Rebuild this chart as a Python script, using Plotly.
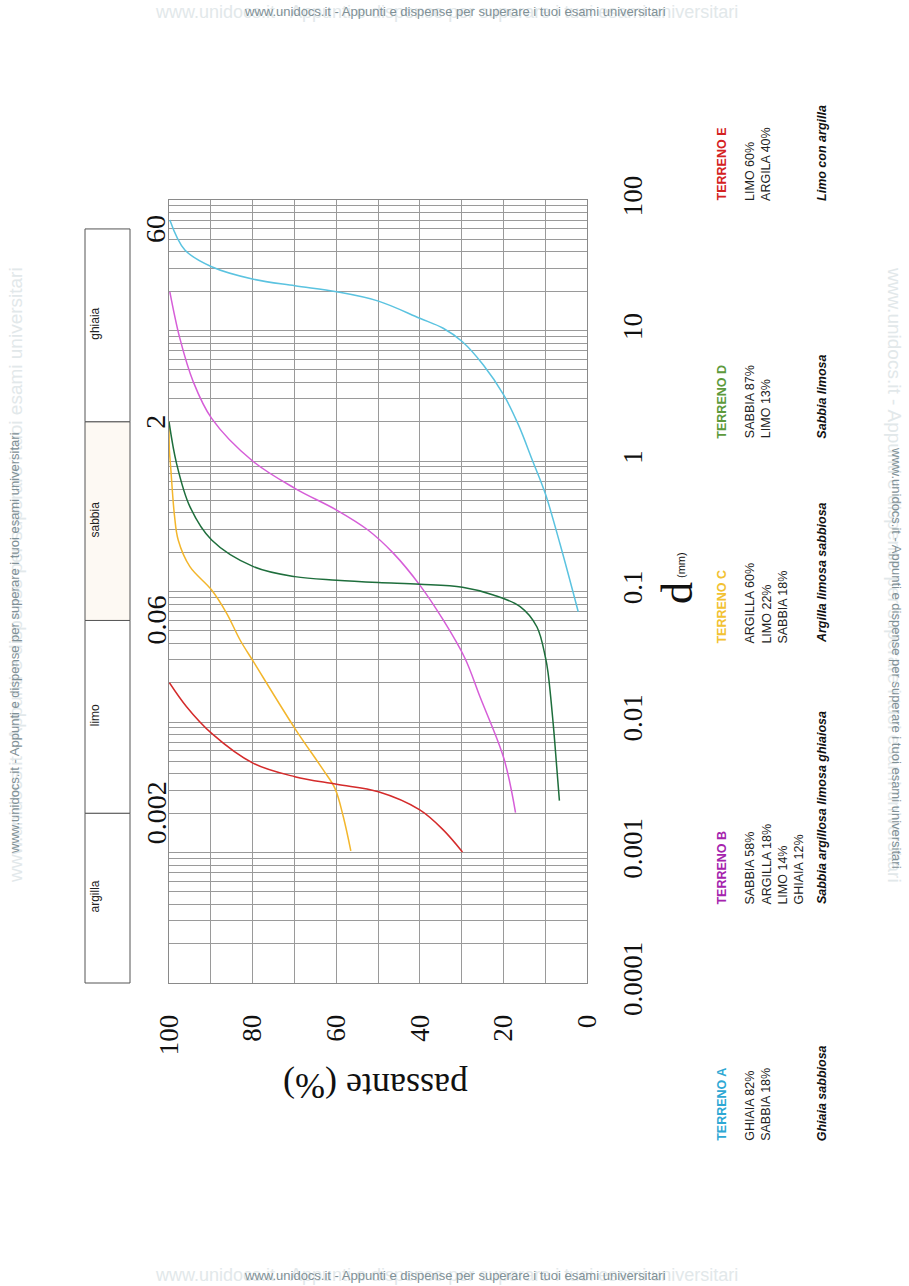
import math
import plotly.graph_objects as go

# ---------------- data ----------------
# grain size d (mm) and percent passing for each soil
A_d = [70.3, 41.4, 30.8, 24.7, 22.0, 19.8, 16.8, 12.4, 10.4, 8.2, 5.44, 3.2, 1.89, 1.0, 0.565, 0.234, 0.070]
A_p = [99.8, 96.2, 89.8, 79.8, 69.9, 59.9, 49.9, 40.0, 34.4, 29.8, 24.8, 19.9, 16.4, 13.0, 10.0, 6.5, 2.1]

B_d = [19.8, 8.7, 4.05, 2.12, 1.0, 0.618, 0.421, 0.296, 0.196, 0.112, 0.0605, 0.0308, 0.0156, 0.00527, 0.00202]
B_p = [99.8, 97.4, 94.2, 89.8, 80.0, 69.9, 59.9, 52.4, 46.3, 40.0, 34.4, 29.2, 25.6, 19.9, 17.1]

C_d = [2.0, 1.2, 0.9, 0.385, 0.248, 0.155, 0.1026, 0.068, 0.0425, 0.029, 0.00895, 0.00429, 0.0031, 0.00188, 0.00103]
C_p = [100.0, 99.9, 99.6, 98.7, 97.8, 95.0, 89.8, 86.2, 83.0, 79.8, 69.9, 63.1, 60.3, 58.3, 56.5]

D_d = [2.0, 0.96, 0.447, 0.248, 0.155, 0.130, 0.122, 0.117, 0.1135, 0.1076, 0.094, 0.0765, 0.0537, 0.0308, 0.0236, 0.0098, 0.00454, 0.0025]
D_p = [100.0, 98.2, 95.0, 89.8, 79.8, 69.9, 59.9, 49.9, 40.0, 29.8, 22.4, 16.0, 12.0, 9.9, 9.3, 8.1, 7.25, 6.6]

E_d = [0.020, 0.0131, 0.00818, 0.00482, 0.00381, 0.00333, 0.00292, 0.00212, 0.00149, 0.00101]
E_p = [99.9, 95.8, 89.8, 79.8, 69.9, 59.9, 49.9, 40.0, 34.4, 29.8]

SERIES_NAMES = ["TERRENO A", "TERRENO B", "TERRENO C", "TERRENO D", "TERRENO E"]
LINE_COLORS = ["#5bc3e0", "#d65ed8", "#f3b62c", "#1e6e3c", "#d42b2b"]
LABEL_COLORS = ["#2ea8d4", "#a523ad", "#f2c232", "#5d9a3c", "#d42222"]
COMPOSITIONS = [
    ["GHIAIA 82%", "SABBIA 18%"],
    ["SABBIA 58%", "ARGILLA 18%", "LIMO 14%", "GHIAIA 12%"],
    ["ARGILLA 60%", "LIMO 22%", "SABBIA 18%"],
    ["SABBIA 87%", "LIMO 13%"],
    ["LIMO 60%", "ARGILA 40%"],
]
DESCRIPTIONS = ["Ghiaia sabbiosa", "Sabbia argillosa limosa ghiaiosa",
                "Argilla limosa sabbiosa", "Sabbia limosa", "Limo con argilla"]
# where each soil's text block begins along the size axis (mm)
TEXT_START_D = [0.0000066, 0.00043, 0.043, 1.6, 100 * 1.06]

# axis ticks
PASS_TICKS = [0, 10, 20, 30, 40, 50, 60, 70, 80, 90, 100]
PASS_LABELS = ["0", "", "20", "", "40", "", "60", "", "80", "", "100"]
DECADES = [0.0001, 0.001, 0.01, 0.1, 1, 10, 100]
DECADE_LABELS = ["0.0001", "0.001", "0.01", "0.1", "1", "10", "100"]
MINOR_FACTORS = [2, 3, 4, 5, 6, 7, 8, 9]

# size classes
CLASS_LIMITS = [0.0001, 0.002, 0.06, 2, 60]
CLASS_LIMIT_LABELS = ["0.002", "0.06", "2", "60"]
CLASS_NAMES = ["argilla", "limo", "sabbia", "ghiaia"]

WATERMARK = "www.unidocs.it - Appunti e dispense per superare i tuoi esami universitari"

# ---------------- layout helpers ----------------
W, H = 909, 1286
L, R, T, B = 169, 322, 200, 303
PW, PH = W - L - R, H - T - B
LOG_MIN, LOG_MAX = -4, 2


def py_d(d):
    """paper y of a grain size (log axis)"""
    return (math.log10(d) - LOG_MIN) / (LOG_MAX - LOG_MIN)


def px(x):
    return (x - L) / PW


def pyp(y):
    return (H - B - y) / PH


fig = go.Figure()

series = [(A_d, A_p), (B_d, B_p), (C_d, C_p), (D_d, D_p), (E_d, E_p)]
for (dd, pp), name, col in zip(series, SERIES_NAMES, LINE_COLORS):
    fig.add_trace(go.Scatter(x=pp, y=dd, mode="lines", name=name,
                             line=dict(color=col, width=1.5, shape="spline", smoothing=1.0),
                             showlegend=False, hoverinfo="x+y+name"))

y_tickvals, y_ticktext = [], []
for dec, lab in zip(DECADES, DECADE_LABELS):
    y_tickvals.append(dec)
    y_ticktext.append(lab)
    if dec < DECADES[-1]:
        for f in MINOR_FACTORS:
            y_tickvals.append(dec * f)
            y_ticktext.append("")

serif = "Liberation Serif, Times New Roman, serif"
sans = "Liberation Sans, Arial, sans-serif"

fig.update_layout(
    width=W, height=H,
    margin=dict(l=L, r=R, t=T, b=B, pad=0),
    paper_bgcolor="white", plot_bgcolor="white",
    xaxis=dict(range=[100, 0], tickvals=PASS_TICKS, ticktext=PASS_LABELS,
               tickangle=-90, tickfont=dict(family=serif, size=27, color="#111"),
               showgrid=True, gridcolor="#9a9a9a", gridwidth=1,
               showline=True, linecolor="#8a8a8a", mirror=True, zeroline=False,
               ticks="", ticklabelstandoff=20),
    yaxis=dict(type="log", range=[LOG_MIN, LOG_MAX], side="right",
               tickvals=y_tickvals, ticktext=y_ticktext,
               tickangle=-90, tickfont=dict(family=serif, size=27, color="#111"),
               showgrid=True, gridcolor="#9a9a9a", gridwidth=1,
               showline=True, linecolor="#8a8a8a", mirror=True, zeroline=False,
               ticks="", ticklabelstandoff=22),
)

ann = []
shapes = []

# axis titles
ann.append(dict(text="passante (%)", x=px(376), y=pyp(1086), xref="paper", yref="paper",
                showarrow=False, textangle=180, font=dict(family=serif, size=36, color="#111"),
                xanchor="center", yanchor="middle"))
ann.append(dict(text="d", x=px(677), y=pyp(593), xref="paper", yref="paper",
                showarrow=False, textangle=-90, font=dict(family=serif, size=44, color="#111"),
                xanchor="center", yanchor="middle"))
ann.append(dict(text="(mm)", x=px(681), y=pyp(565), xref="paper", yref="paper",
                showarrow=False, textangle=-90, font=dict(family=sans, size=11, color="#111"),
                xanchor="center", yanchor="middle"))

# class limit labels
for v, lab in zip(CLASS_LIMITS[1:], CLASS_LIMIT_LABELS):
    ann.append(dict(text=lab, x=px(156), y=py_d(v), xref="paper", yref="paper",
                    showarrow=False, textangle=-90, font=dict(family=serif, size=28, color="#111"),
                    xanchor="center", yanchor="middle"))

# class boxes
bx0, bx1 = px(85), px(130)
for i, name in enumerate(CLASS_NAMES):
    y0, y1 = py_d(CLASS_LIMITS[i]), py_d(CLASS_LIMITS[i + 1])
    shapes.append(dict(type="rect", xref="paper", yref="paper", x0=bx0, x1=bx1, y0=y0, y1=y1,
                       line=dict(color="#555", width=1),
                       fillcolor="#fdf9f3" if name == "sabbia" else "white", layer="below"))
    ann.append(dict(text=name, x=px(95), y=(y0 + y1) / 2 + 0.002, xref="paper", yref="paper",
                    showarrow=False, textangle=-90, font=dict(family=sans, size=12, color="#222"),
                    xanchor="center", yanchor="middle"))

# soil texts
for i in range(5):
    ys = py_d(TEXT_START_D[i]) - 0.008
    ann.append(dict(text="<b>" + SERIES_NAMES[i] + "</b>", x=px(722), y=ys, xref="paper", yref="paper",
                    showarrow=False, textangle=-90, font=dict(family=sans, size=12.5, color=LABEL_COLORS[i]),
                    xanchor="center", yanchor="bottom"))
    ann.append(dict(text="<br>".join(COMPOSITIONS[i]), x=px(741), y=ys, xref="paper", yref="paper",
                    showarrow=False, textangle=-90, align="left",
                    font=dict(family=sans, size=12.5, color="#222"),
                    xanchor="left", yanchor="bottom"))
    ann.append(dict(text="<b><i>" + DESCRIPTIONS[i] + "</i></b>", x=px(822), y=ys, xref="paper", yref="paper",
                    showarrow=False, textangle=-90, font=dict(family=sans, size=12.5, color="#111"),
                    xanchor="center", yanchor="bottom"))

# watermarks
faint = "#e2e8ea"
mid = "#7f9096"
for yy in (12, 1275):
    ann.append(dict(text=WATERMARK, x=px(446), y=pyp(yy), xref="paper", yref="paper", showarrow=False,
                    font=dict(family=sans, size=18, color=faint), xanchor="center", yanchor="middle"))
    ann.append(dict(text=WATERMARK, x=px(455), y=pyp(yy), xref="paper", yref="paper", showarrow=False,
                    font=dict(family=sans, size=13, color=mid), xanchor="center", yanchor="middle"))
ann.append(dict(text=WATERMARK, x=px(15), y=pyp(575), xref="paper", yref="paper", showarrow=False,
                textangle=-90, font=dict(family=sans, size=19, color=faint), xanchor="center", yanchor="middle"))
ann.append(dict(text=WATERMARK, x=px(14), y=pyp(643), xref="paper", yref="paper", showarrow=False,
                textangle=-90, font=dict(family=sans, size=13, color=mid), xanchor="center", yanchor="middle"))
ann.append(dict(text=WATERMARK, x=px(895), y=pyp(575), xref="paper", yref="paper", showarrow=False,
                textangle=90, font=dict(family=sans, size=19, color=faint), xanchor="center", yanchor="middle"))
ann.append(dict(text=WATERMARK, x=px(897), y=pyp(658), xref="paper", yref="paper", showarrow=False,
                textangle=90, font=dict(family=sans, size=13, color=mid), xanchor="center", yanchor="middle"))

fig.update_layout(annotations=ann, shapes=shapes)
fig.write_html("out.html")
